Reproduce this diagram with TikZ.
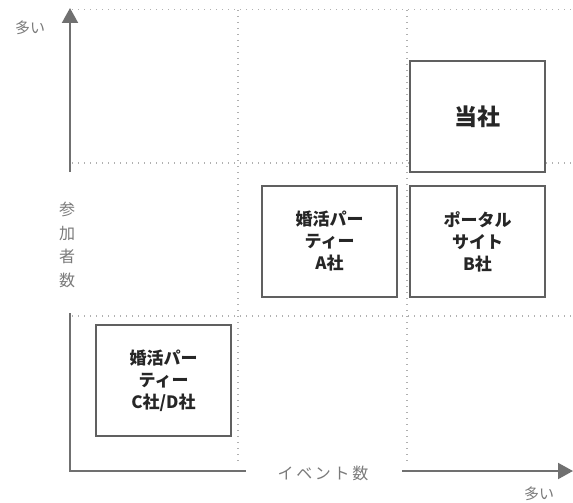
\documentclass[tikz,border=0pt]{standalone}
\usepackage{fontspec}
\setmainfont{Noto Sans CJK JP}
\newfontfamily\cjk{Noto Sans CJK JP}
\usetikzlibrary{arrows.meta}
\definecolor{axisgray}{HTML}{707070}
\definecolor{labelgray}{HTML}{7A7A7A}
\definecolor{boxgray}{HTML}{606060}
\definecolor{dotgray}{HTML}{B0B0B0}
\tikzset{
  axisline/.style={draw=axisgray, line width=2pt},
  axisarrow/.style={axisline, -{Triangle[length=15pt,width=16pt]}},
  gridline/.style={draw=dotgray, line width=1.2pt, dash pattern=on 1.2pt off 4.8pt},
  quadbox/.style={draw=boxgray, fill=white, line width=1.6pt, minimum width=135pt, minimum height=111pt, inner sep=0pt, align=center, font=\cjk\bfseries\fontsize{17}{22}\selectfont, text=black!85},
  axislabel/.style={text=labelgray, font=\cjk\fontsize{15}{18}\selectfont, inner sep=0pt}
}
\begin{document}
\begin{tikzpicture}[x=1pt, y=-1pt]
\useasboundingbox (0,0) rectangle (573,503);
% grid coordinates
\coordinate (h1a) at (72,9.5);  \coordinate (h1b) at (573,9.5);
\coordinate (h2a) at (72,163);  \coordinate (h2b) at (573,163);
\coordinate (h3a) at (72,316);  \coordinate (h3b) at (573,316);
\coordinate (v1a) at (238,10);  \coordinate (v1b) at (238,465);
\coordinate (v2a) at (407,10);  \coordinate (v2b) at (407,465);
\draw[gridline] (h1a) -- (h1b);
\draw[gridline] (h2a) -- (h2b);
\draw[gridline] (h3a) -- (h3b);
\draw[gridline] (v1a) -- (v1b);
\draw[gridline] (v2a) -- (v2b);
% axes
\coordinate (ytop) at (70,8);
\coordinate (ybot) at (70,172);
\coordinate (ylow) at (70,313);
\coordinate (origin) at (70,471);
\coordinate (xmid) at (246,471);
\coordinate (xres) at (402,471);
\coordinate (xend) at (573,471);
\draw[axisarrow] (ybot) -- (ytop);
\draw[axisline] (ylow) -- (origin) -- (xmid);
\draw[axisarrow] (xres) -- (xend);
% labels
\node[axislabel] (ymany) at (30,28) {多い};
\node[axislabel, font=\cjk\fontsize{16}{23.5}\selectfont, align=center] (ylabel) at (67,245) {参\\加\\者\\数};
\node[axislabel, font=\cjk\fontsize{16}{18}\selectfont] (xlabel) at (323,473) {イ\,ベ\,ン\,ト\,数};
\node[axislabel] (xmany) at (539,494) {多い};
% boxes
\node[quadbox, font=\cjk\bfseries\fontsize{23}{26}\selectfont] (us) at (477.5,116.5) {当社};
\node[quadbox] (a) at (329.5,241.5) {婚活パー\\ティー\\A社};
\node[quadbox] (b) at (477.5,241.5) {ポータル\\サイト\\B社};
\node[quadbox] (cd) at (163.5,380.5) {婚活パー\\ティー\\C社/D社};
\end{tikzpicture}
\end{document}
